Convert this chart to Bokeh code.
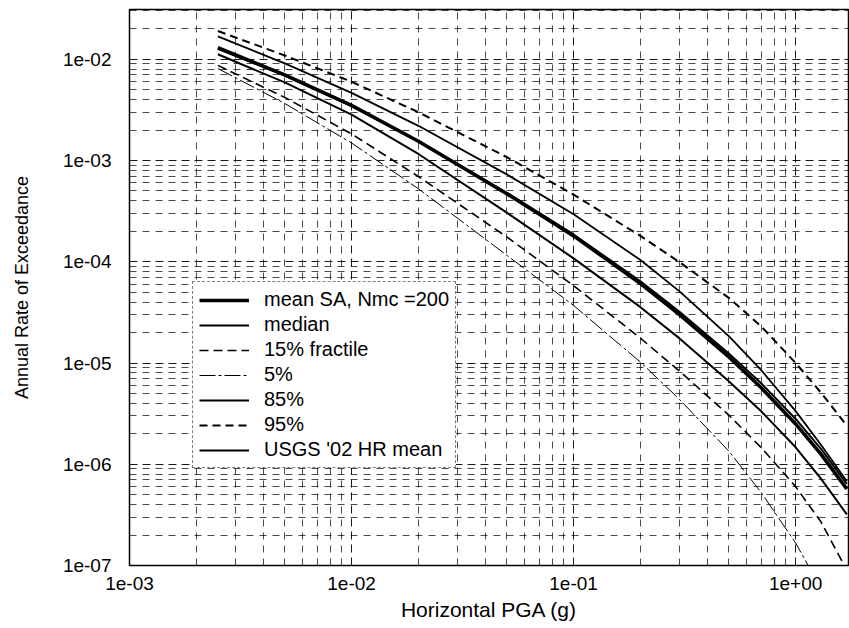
from bokeh.plotting import figure
from bokeh.models import (Range1d, FixedTicker, CustomJSTickFormatter, Legend, LegendItem,
                          ColumnDataSource)
from bokeh.embed import file_html
from bokeh.resources import INLINE

# ---- data ----
pga = [0.0025, 0.005, 0.01, 0.02, 0.05, 0.1, 0.2, 0.3, 0.5, 0.7, 1.0, 1.3, 1.7]
mean_sa = [1.3e-2, 7.0e-3, 3.5e-3, 1.55e-3, 4.7e-4, 1.8e-4, 6.1e-5, 3.0e-5, 1.15e-5, 5.7e-6, 2.5e-6, 1.26e-6, 5.7e-7]
median = [1.12e-2, 5.9e-3, 2.84e-3, 1.16e-3, 3.06e-4, 1.08e-4, 3.56e-5, 1.75e-5, 6.6e-6, 3.33e-6, 1.47e-6, 7.2e-7, 3.2e-7]
frac15 = [8.7e-3, 4.2e-3, 1.83e-3, 6.95e-4, 1.76e-4, 5.8e-5, 1.76e-5, 8.3e-6, 3.06e-6, 1.46e-6, 6.0e-7, 2.7e-7, 9.0e-8]
frac05 = [8.1e-3, 3.66e-3, 1.49e-3, 5.26e-4, 1.16e-4, 3.7e-5, 1.02e-5, 4.37e-6, 1.35e-6, 5.25e-7, 1.67e-7, 5.9e-8, 1.5e-8]
frac85 = [1.68e-2, 9.1e-3, 4.65e-3, 2.2e-3, 7.3e-4, 2.94e-4, 1.04e-4, 5.1e-5, 1.84e-5, 8.5e-6, 3.35e-6, 1.56e-6, 6.8e-7]
frac95 = [1.9e-2, 1.09e-2, 6.0e-3, 3.0e-3, 1.08e-3, 4.6e-4, 1.8e-4, 9.9e-5, 4.4e-5, 2.3e-5, 1.0e-5, 5.1e-6, 2.4e-6]
usgs = [1.27e-2, 6.9e-3, 3.45e-3, 1.55e-3, 4.8e-4, 1.86e-4, 6.4e-5, 3.2e-5, 1.24e-5, 6.3e-6, 2.8e-6, 1.42e-6, 6.4e-7]

x_major = [1e-3, 1e-2, 1e-1, 1e0]
y_major = [1e-7, 1e-6, 1e-5, 1e-4, 1e-3, 1e-2]

FONT = "Liberation Sans"

x_minor = [m * d for d in x_major for m in range(2, 10)]
y_minor = [m * d for d in y_major for m in range(2, 10)]

p = figure(width=849, height=628, x_axis_type="log", y_axis_type="log",
           x_range=Range1d(1e-3, 1.73), y_range=Range1d(1e-7, 0.031),
           output_backend="svg", toolbar_location=None,
           min_border_left=129, min_border_right=1, min_border_top=9, min_border_bottom=63)

fmt = CustomJSTickFormatter(code="""
const e = Math.round(Math.log10(tick));
const s = e < 0 ? '-' : '+';
const a = Math.abs(e);
return '1e' + s + (a < 10 ? '0' : '') + a;
""")

p.xaxis.ticker = FixedTicker(ticks=x_major, minor_ticks=x_minor)
p.yaxis.ticker = FixedTicker(ticks=y_major, minor_ticks=y_minor)
for ax in (p.xaxis, p.yaxis):
    ax.formatter = fmt
    ax.major_label_text_font = FONT
    ax.major_label_text_font_size = "19px"
    ax.major_label_text_color = "black"
    ax.axis_label_text_font = FONT
    ax.axis_label_text_font_style = "normal"
    ax.axis_label_text_color = "black"
    ax.axis_line_color = None
    ax.major_tick_line_color = None
    ax.minor_tick_line_color = None
p.xaxis.axis_label = "Horizontal PGA (g)"
p.yaxis.axis_label = "Annual Rate of Exceedance"
p.xaxis.axis_label_text_font_size = "21px"
p.yaxis.axis_label_text_font_size = "18px"
p.xaxis.major_label_standoff = 5
p.yaxis.major_label_standoff = 12
p.xaxis.axis_label_standoff = 5
p.yaxis.axis_label_standoff = 28

for g in (p.xgrid, p.ygrid):
    g.grid_line_color = "black"
    g.grid_line_alpha = 0.9
    g.grid_line_dash = "8 5"
    g.grid_line_width = 1
    g.minor_grid_line_color = "black"
    g.minor_grid_line_alpha = 0.7
    g.minor_grid_line_dash = "7 6"
    g.minor_grid_line_width = 1

p.outline_line_color = "black"
p.outline_line_width = 1.5
p.background_fill_color = "white"
p.border_fill_color = "white"

src = ColumnDataSource(dict(x=pga, mean=mean_sa, med=median, f15=frac15, f05=frac05,
                            f85=frac85, f95=frac95, usgs=usgs))

r_f05 = p.line("x", "f05", source=src, line_color="black", line_width=1, line_dash="16 3 3 3")
r_f15 = p.line("x", "f15", source=src, line_color="black", line_width=1.6, line_dash="9 5")
r_med = p.line("x", "med", source=src, line_color="black", line_width=2)
r_usgs = p.line("x", "usgs", source=src, line_color="black", line_width=2)
r_mean = p.line("x", "mean", source=src, line_color="black", line_width=3.6)
r_f85 = p.line("x", "f85", source=src, line_color="black", line_width=1.8)
r_f95 = p.line("x", "f95", source=src, line_color="black", line_width=2, line_dash="8 5")

legend = Legend(items=[
    LegendItem(label="mean SA, Nmc =200", renderers=[r_mean]),
    LegendItem(label="median", renderers=[r_med]),
    LegendItem(label="15% fractile", renderers=[r_f15]),
    LegendItem(label="5%", renderers=[r_f05]),
    LegendItem(label="85%", renderers=[r_f85]),
    LegendItem(label="95%", renderers=[r_f95]),
    LegendItem(label="USGS '02 HR mean", renderers=[r_usgs]),
], location=(63, 97))
legend.label_text_font = FONT
legend.label_text_font_size = "20px"
legend.label_text_color = "black"
legend.glyph_width = 50
legend.glyph_height = 22
legend.label_height = 22
legend.spacing = 2
legend.padding = 6
legend.margin = 0
legend.label_standoff = 15
legend.border_line_color = "black"
legend.border_line_width = 1
legend.border_line_dash = "4 2"
legend.background_fill_color = "white"
legend.background_fill_alpha = 1
p.add_layout(legend)

open("out.html", "w").write(file_html(p, INLINE))
